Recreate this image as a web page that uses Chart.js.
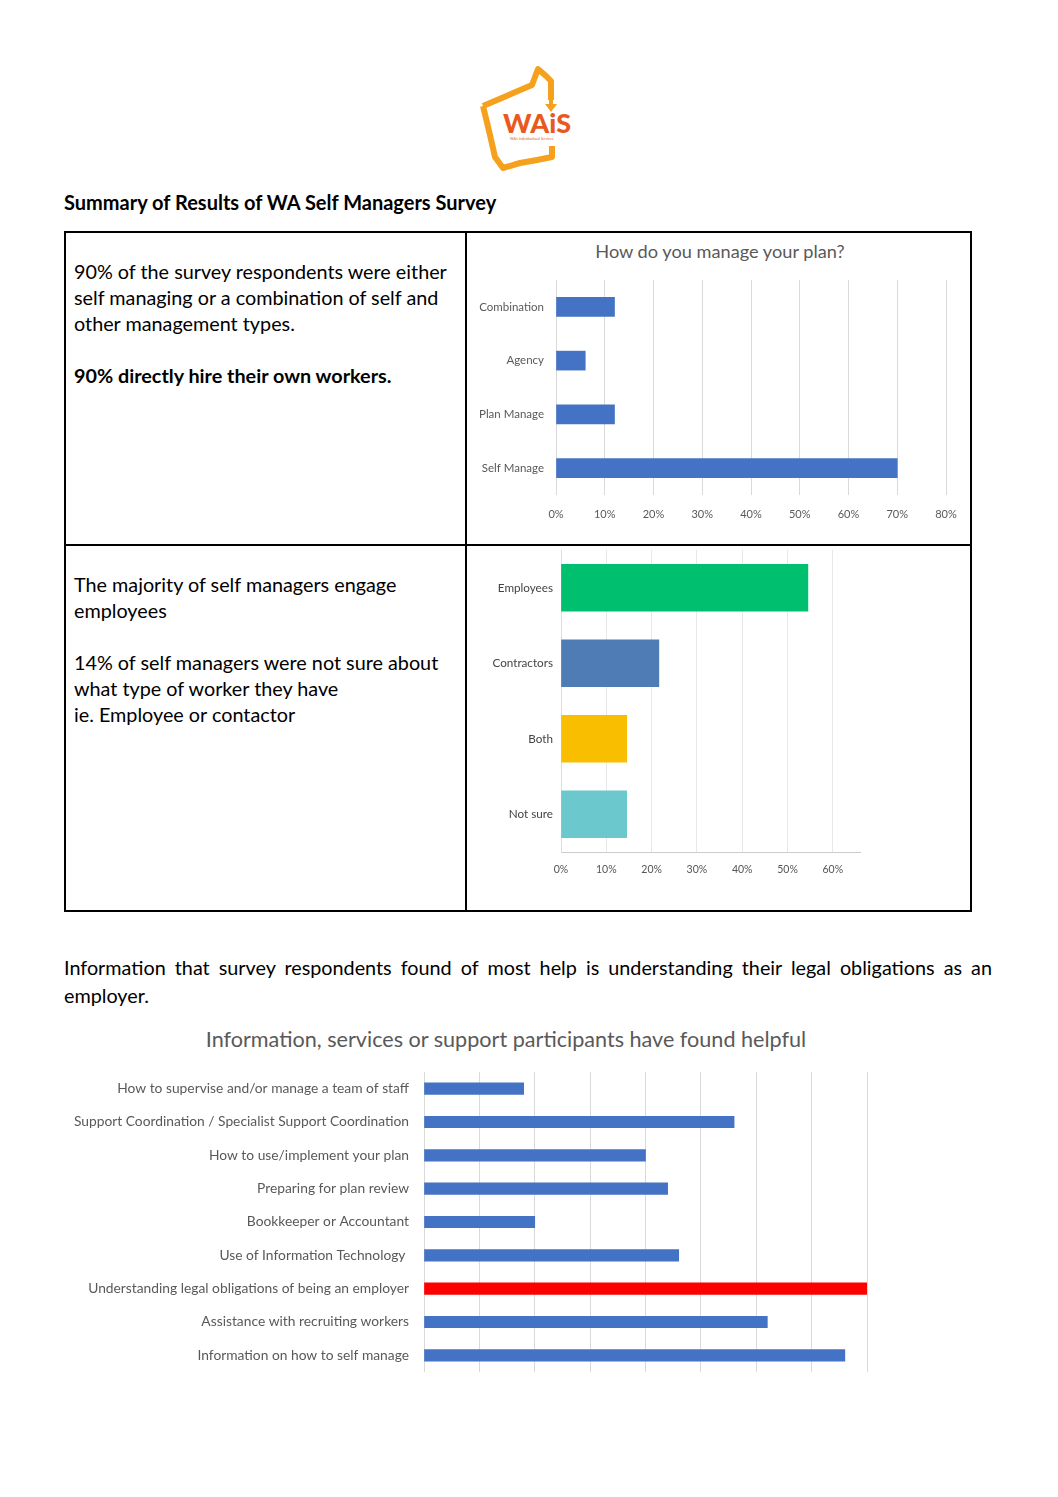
<!DOCTYPE html>
<html>
<head>
<meta charset="utf-8">
<script src="https://cdn.jsdelivr.net/npm/chart.js@4.4.0/dist/chart.umd.min.js"></script>
<style>
  body { margin: 0; background: #fff; font-family: Lato, "Open Sans", sans-serif; }
  #page { position: relative; width: 1058px; height: 1497px; overflow: hidden; }
  .abs { position: absolute; }
  .txt { font-size: 19.8px; line-height: 26px; color: #000; }
  .line { position: absolute; background: #000; }
  .ctitle { position: absolute; color: #595959; white-space: nowrap; transform: translate(-50%, -50%); }
</style>
</head>
<body>
<div id="page">
  <!-- logo -->
  <svg class="abs" style="left:470px;top:60px" width="120" height="120" viewBox="0 0 120 120">
    <path d="M13 46 L62 25 L68 9 L76 16 L81 21 L81 40" fill="none" stroke="#F6A11D" stroke-width="6" stroke-linejoin="round"/>
    <path d="M81 38 L81 46" stroke="#F6A11D" stroke-width="4"/>
    <path d="M75 44 L81 52 L87 44 Z" fill="#F6A11D"/>
    <path d="M13 46 L20 75 L25 97 L33 108 L50 103 L67 100 L82 97 L82 86" fill="none" stroke="#F6A11D" stroke-width="6" stroke-linejoin="round"/>
    <text x="33" y="73" font-family="Lato" font-weight="900" font-size="27" fill="#E9591E">WAiS</text>
    <text x="40" y="80" font-family="Lato" font-size="3.5" fill="#E9591E">WA's Individualised Services</text>
  </svg>

  <div class="abs" style="left:64px;top:189px;font-size:20px;font-weight:bold;line-height:26px">Summary of Results of WA Self Managers Survey</div>

  <!-- table borders -->
  <div class="line" style="left:64px;top:231px;width:908px;height:1.5px"></div>
  <div class="line" style="left:64px;top:910px;width:908px;height:1.5px"></div>
  <div class="line" style="left:64px;top:231px;width:1.5px;height:681px"></div>
  <div class="line" style="left:970px;top:231px;width:1.5px;height:681px"></div>
  <div class="line" style="left:465px;top:231px;width:1.5px;height:681px"></div>
  <div class="line" style="left:64px;top:544px;width:908px;height:1.5px"></div>

  <div class="abs txt" style="left:74px;top:258px">90% of the survey respondents were either<br>self managing or a combination of self and<br>other management types.<br><br><b>90% directly hire their own workers.</b></div>
  <div class="abs txt" style="left:74px;top:571px">The majority of self managers engage<br>employees<br><br>14% of self managers were not sure about<br>what type of worker they have<br>ie. Employee or contactor</div>

  <div class="ctitle" style="left:720px;top:251px;font-size:18.2px">How do you manage your plan?</div>
  <div class="abs" style="left:466px;top:233px;width:504px;height:311px"><canvas id="planChart"></canvas></div>
  <div class="abs" style="left:466px;top:546px;width:400px;height:340px"><canvas id="workerChart"></canvas></div>

  <div class="abs txt" style="left:64px;top:953px;width:928px;line-height:28px;text-align:justify;text-align-last:left">Information that survey respondents found of most help is understanding their legal obligations as an employer.</div>

  <div class="ctitle" style="left:506px;top:1039px;font-size:21.6px">Information, services or support participants have found helpful</div>
  <div class="abs" style="left:64px;top:1060px;width:836px;height:320px"><canvas id="helpChart"></canvas></div>
</div>

<script>
const planLabels = ['Combination', 'Agency', 'Plan Manage', 'Self Manage'];
const planValues = [12, 6, 12, 70];

const workerLabels = ['Employees', 'Contractors', 'Both', 'Not sure'];
const workerValues = [54.5, 21.6, 14.5, 14.5];
const workerColors = ['#00BF6F', '#507CB6', '#F9BE00', '#6BC8CD'];

const helpLabels = [
    'How to supervise and/or manage a team of staff',
    'Support Coordination / Specialist Support Coordination',
    'How to use/implement your plan',
    'Preparing for plan review',
    'Bookkeeper or Accountant',
    'Use of Information Technology ',
    'Understanding legal obligations of being an employer',
    'Assistance with recruiting workers',
    'Information on how to self manage'
];
const helpValues = [9, 28, 20, 22, 10, 23, 40, 31, 38];
// the top one gets the red bar
const helpColors = helpValues.map((v, i) => i === 6 ? '#FF0000' : '#4472C4');

Chart.defaults.font.family = 'Lato';
Chart.defaults.animation = false;
Chart.defaults.maintainAspectRatio = false;
Chart.defaults.plugins.legend.display = false;
Chart.defaults.plugins.tooltip.enabled = false;

// pin axis sizes so the plot areas land where the picture has them
const fixW = w => scale => { scale.width = w; scale.paddingTop = 0; scale.paddingBottom = 0; };
const fixH = h => scale => { scale.height = h; };
const pct = v => v + '%';

new Chart(document.getElementById('planChart'), {
    type: 'bar',
    data: {
        labels: planLabels,
        datasets: [{ data: planValues, backgroundColor: '#4472C4', barThickness: 19 }]
    },
    options: {
        indexAxis: 'y',
        layout: { padding: { top: 47, right: 24 } },
        scales: {
            x: {
                min: 0, max: 80,
                ticks: { stepSize: 10, callback: pct, color: '#595959', font: { size: 11 }, padding: 13 },
                grid: { color: '#d9d9d9', drawTicks: false },
                border: { display: false },
                afterFit: fixH(49)
            },
            y: {
                ticks: { color: '#595959', font: { size: 11.5 }, padding: 12 },
                grid: { display: false, drawTicks: false },
                border: { display: false },
                afterFit: fixW(90)
            }
        }
    }
});

new Chart(document.getElementById('workerChart'), {
    type: 'bar',
    data: {
        labels: workerLabels,
        datasets: [{ data: workerValues, backgroundColor: workerColors, barThickness: 47 }]
    },
    options: {
        indexAxis: 'y',
        layout: { padding: { top: 4, right: 6 } },
        scales: {
            x: {
                min: 0, max: 66,
                ticks: { stepSize: 10, callback: pct, color: '#555', font: { size: 10.5 }, padding: 11 },
                afterBuildTicks: s => { s.ticks = s.ticks.filter(t => t.value % 10 === 0); },
                grid: { color: '#e8e8e8', drawTicks: false },
                border: { display: true, color: '#cccccc' },
                afterFit: fixH(34)
            },
            y: {
                ticks: { color: '#444', font: { size: 11.7 }, padding: 8 },
                grid: { display: false, drawTicks: false },
                border: { display: true, color: '#dddddd' },
                afterFit: fixW(95)
            }
        }
    }
});

new Chart(document.getElementById('helpChart'), {
    type: 'bar',
    data: {
        labels: helpLabels,
        datasets: [{ data: helpValues, backgroundColor: helpColors, barThickness: 11.5 }]
    },
    options: {
        indexAxis: 'y',
        layout: { padding: { top: 12, right: 33, bottom: 8 } },
        scales: {
            x: {
                min: 0, max: 40,
                ticks: { stepSize: 5, display: false },
                grid: { color: '#d9d9d9', drawTicks: false },
                border: { display: false },
                afterFit: fixH(0)
            },
            y: {
                ticks: { color: '#595959', font: { size: 13.8 }, padding: 15 },
                grid: { display: false, drawTicks: false },
                border: { display: false },
                afterFit: fixW(360)
            }
        }
    }
});
</script>
</body>
</html>
